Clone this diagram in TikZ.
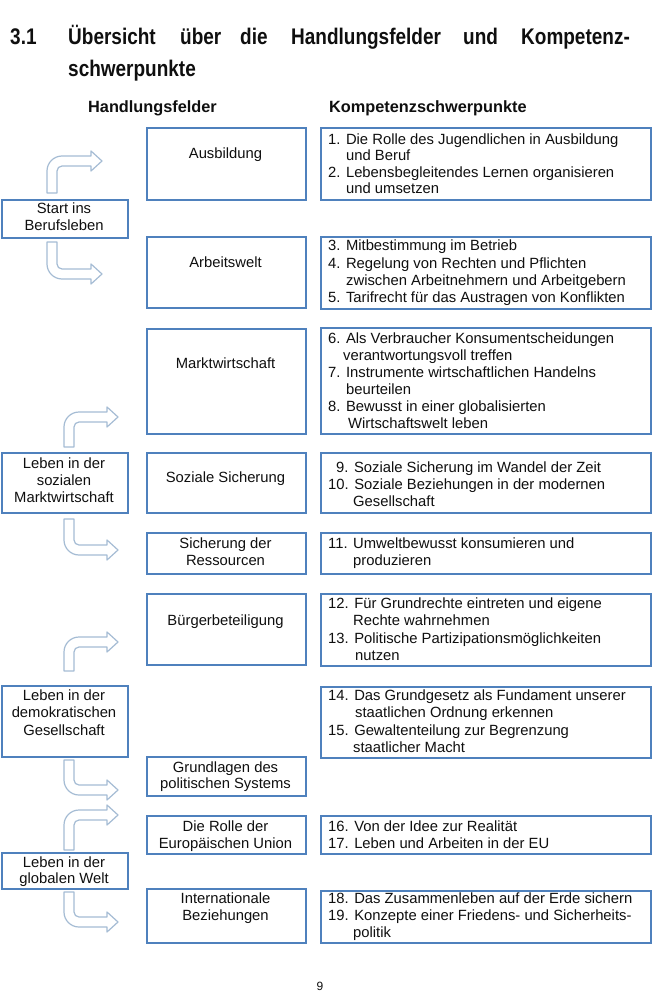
\documentclass[tikz,border=0pt]{standalone}
\usepackage{fontspec}
\setmainfont{Liberation Sans}
\newfontfamily\narrowbf[FakeStretch=0.84]{Liberation Sans Bold}
\definecolor{boxblue}{RGB}{79,129,189}
\definecolor{arrowgrey}{RGB}{165,188,212}
\definecolor{txtc}{RGB}{15,15,15}
\newcounter{lnc}
\tikzset{
  box/.style={draw=boxblue, line width=2.2pt, fill=white, inner sep=0pt, anchor=north west},
  txt/.style={inner sep=0pt, text=txtc, font=\fontsize{14.8}{17}\selectfont},
  barrow/.style={draw=arrowgrey, line width=1.2pt, fill=white, line join=round},
  hdr/.style={inner sep=0pt, anchor=base west, text=txtc, font=\bfseries\fontsize{16.3}{19}\selectfont},
  ttl/.style={inner sep=0pt, anchor=base west, text=txtc, font=\narrowbf\fontsize{22.6}{26}\selectfont}
}
% left-aligned text line
\newcommand\tl[3]{\stepcounter{lnc}\node[txt, anchor=base west] (L\thelnc) at (#1,#2) {#3};}
% centered text line
\newcommand\tc[3]{\stepcounter{lnc}\node[txt, anchor=base] (L\thelnc) at (#1,#2) {#3};}
% box by corners
\newcommand\bx[5]{\node[box, minimum width={#4-#2}, minimum height={#5-#3}] (#1) at (#2,#3) {};}
% bent block arrow: x0 yb xt yt s (s=1 up, s=-1 down)
\newcommand\bentarrow[5]{%
  \draw[barrow] (#1,#2) -- (#1,{#4+10*(#5)})
   .. controls (#1,{#4+1.75*(#5)}) and ({#1+6.75},{#4-5*(#5)}) .. ({#1+15},{#4-5*(#5)})
   -- ({#3-11},{#4-5*(#5)}) -- ({#3-11},{#4-10*(#5)}) -- (#3,#4)
   -- ({#3-11},{#4+10*(#5)}) -- ({#3-11},{#4+5*(#5)}) -- ({#1+15},{#4+5*(#5)})
   .. controls ({#1+12.25},{#4+5*(#5)}) and ({#1+10},{#4+7.25*(#5)}) .. ({#1+10},{#4+10*(#5)})
   -- ({#1+10},#2) -- cycle;}
\begin{document}
\begin{tikzpicture}[x=1pt,y=-1pt]
\fill[white] (0,0) rectangle (655,1000);
\useasboundingbox (0,0) rectangle (655,1000);

% title
\node[ttl] (t1) at (10,45) {3.1};
\node[ttl] (t2) at (68,45) {Übersicht};
\node[ttl] (t3) at (180,45) {über};
\node[ttl] (t4) at (240,45) {die};
\node[ttl] (t5) at (291,45) {Handlungsfelder};
\node[ttl] (t6) at (463,45) {und};
\node[ttl] (t7) at (521,45) {Kompetenz-};
\node[ttl] (t8) at (68,77) {schwerpunkte};

% headers
\node[hdr] (h1) at (88,113) {Handlungsfelder};
\node[hdr] (h2) at (329,113) {Kompetenzschwerpunkte};

% category boxes (left)
\bx{c1}{1}{199}{127}{237}
\bx{c2}{1}{452}{127}{512}
\bx{c3}{1}{685}{127}{756}
\bx{c4}{1}{852}{127}{888}

% Handlungsfelder boxes
\bx{f1}{146}{127}{305}{199}
\bx{f2}{146}{236}{305}{307}
\bx{f3}{146}{328}{305}{433}
\bx{f4}{146}{452}{305}{512}
\bx{f5}{146}{532}{305}{573}
\bx{f6}{146}{593}{305}{664}
\bx{f7}{146}{756}{305}{795}
\bx{f8}{146}{815}{305}{853}
\bx{f9}{146}{888}{305}{942}

% Kompetenz boxes
\bx{k1}{320}{127}{650}{199}
\bx{k2}{320}{236}{650}{308}
\bx{k3}{320}{327}{650}{433}
\bx{k4}{320}{452}{650}{512}
\bx{k5}{320}{532}{650}{573}
\bx{k6}{320}{593}{650}{665}
\bx{k7}{320}{686}{650}{757}
\bx{k8}{320}{815}{650}{853}
\bx{k9}{320}{890}{650}{942}

% arrows
\bentarrow{47}{193}{102}{161}{1}
\bentarrow{47}{242}{102}{274}{-1}
\bentarrow{64}{447}{118}{417}{1}
\bentarrow{64}{519}{118}{550}{-1}
\bentarrow{64}{671}{118}{642}{1}
\bentarrow{64}{760}{118}{790}{-1}
\bentarrow{64}{850}{118}{815}{1}
\bentarrow{64}{892}{118}{922}{-1}

% category texts
\tc{64}{214}{Start ins}
\tc{64}{231}{Berufsleben}
\tc{64}{468}{Leben in der}
\tc{64}{485}{sozialen}
\tc{64}{502}{Marktwirtschaft}
\tc{64}{700}{Leben in der}
\tc{64}{717}{demokratischen}
\tc{64}{735}{Gesellschaft}
\tc{64}{867}{Leben in der}
\tc{64}{883}{globalen Welt}

% Handlungsfelder texts
\tc{225.5}{159}{Ausbildung}
\tc{225.5}{267}{Arbeitswelt}
\tc{225.5}{368}{Marktwirtschaft}
\tc{225.5}{482}{Soziale Sicherung}
\tc{225.5}{548}{Sicherung der}
\tc{225.5}{565}{Ressourcen}
\tc{225.5}{625}{Bürgerbeteiligung}
\tc{225.5}{772}{Grundlagen des}
\tc{225.5}{788}{politischen Systems}
\tc{225.5}{831}{Die Rolle der}
\tc{225.5}{848}{Europäischen Union}
\tc{225.5}{903}{Internationale}
\tc{225.5}{920}{Beziehungen}

% Kompetenz texts
\tl{328}{145}{1. Die Rolle des Jugendlichen in Ausbildung}
\tl{346}{161}{und Beruf}
\tl{328}{178}{2. Lebensbegleitendes Lernen organisieren}
\tl{346}{194}{und umsetzen}

\tl{328}{251}{3. Mitbestimmung im Betrieb}
\tl{328}{268}{4. Regelung von Rechten und Pflichten}
\tl{346}{285}{zwischen Arbeitnehmern und Arbeitgebern}
\tl{328}{302}{5. Tarifrecht für das Austragen von Konflikten}

\tl{328}{343}{6. Als Verbraucher Konsumentscheidungen}
\tl{343}{360}{verantwortungsvoll treffen}
\tl{328}{377}{7. Instrumente wirtschaftlichen Handelns}
\tl{346}{394}{beurteilen}
\tl{328}{411}{8. Bewusst in einer globalisierten}
\tl{348}{428}{Wirtschaftswelt leben}

\tl{336}{472}{9. Soziale Sicherung im Wandel der Zeit}
\tl{328}{489}{10. Soziale Beziehungen in der modernen}
\tl{353}{506}{Gesellschaft}

\tl{328}{548}{11. Umweltbewusst konsumieren und}
\tl{353}{565}{produzieren}

\tl{328}{608}{12. Für Grundrechte eintreten und eigene}
\tl{353}{625}{Rechte wahrnehmen}
\tl{328}{643}{13. Politische Partizipationsmöglichkeiten}
\tl{355}{660}{nutzen}

\tl{328}{700}{14. Das Grundgesetz als Fundament unserer}
\tl{355}{717}{staatlichen Ordnung erkennen}
\tl{328}{735}{15. Gewaltenteilung zur Begrenzung}
\tl{353}{752}{staatlicher Macht}

\tl{328}{831}{16. Von der Idee zur Realität}
\tl{328}{848}{17. Leben und Arbeiten in der EU}

\tl{328}{903}{18. Das Zusammenleben auf der Erde sichern}
\tl{328}{920}{19. Konzepte einer Friedens- und Sicherheits-}
\tl{353}{937}{politik}

% page number
\node[txt, anchor=base, font=\fontsize{12}{14}\selectfont] (pg) at (320,990) {9};
\end{tikzpicture}
\end{document}
